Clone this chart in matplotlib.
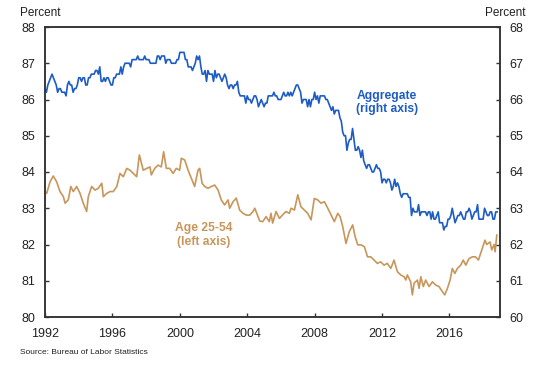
import numpy as np
import matplotlib
matplotlib.use("Agg")
import matplotlib.pyplot as plt

plt.rcParams['font.family'] = ['Liberation Sans', 'DejaVu Sans']

# Aggregate participation rate, monthly, Jan 1992 - Nov 2018 (right axis)
agg = [
    66.3, 66.2, 66.4, 66.5, 66.6, 66.7, 66.6, 66.5, 66.4, 66.2, 66.3, 66.3,  # 1992
    66.2, 66.2, 66.2, 66.1, 66.4, 66.5, 66.4, 66.4, 66.2, 66.3, 66.3, 66.4,  # 1993
    66.6, 66.6, 66.5, 66.6, 66.6, 66.4, 66.4, 66.6, 66.6, 66.7, 66.7, 66.7,  # 1994
    66.8, 66.8, 66.7, 66.9, 66.5, 66.5, 66.6, 66.5, 66.6, 66.6, 66.5, 66.4,  # 1995
    66.4, 66.6, 66.6, 66.7, 66.7, 66.7, 66.9, 66.7, 66.9, 67.0, 67.0, 67.0,  # 1996
    67.0, 66.9, 67.1, 67.1, 67.1, 67.1, 67.2, 67.1, 67.1, 67.1, 67.1, 67.2,  # 1997
    67.1, 67.1, 67.1, 67.0, 67.0, 67.0, 67.0, 67.0, 67.2, 67.2, 67.1, 67.2,  # 1998
    67.2, 67.2, 67.0, 67.1, 67.1, 67.1, 67.0, 67.0, 67.0, 67.0, 67.1, 67.1,  # 1999
    67.3, 67.3, 67.3, 67.3, 67.1, 67.1, 66.9, 66.9, 66.9, 66.8, 66.9, 67.0,  # 2000
    67.2, 67.1, 67.2, 66.9, 66.7, 66.7, 66.8, 66.5, 66.8, 66.7, 66.7, 66.7,  # 2001
    66.5, 66.8, 66.6, 66.7, 66.7, 66.6, 66.5, 66.6, 66.7, 66.6, 66.4, 66.3,  # 2002
    66.4, 66.4, 66.3, 66.4, 66.4, 66.5, 66.2, 66.1, 66.1, 66.1, 66.1, 65.9,  # 2003
    66.1, 66.0, 66.0, 65.9, 66.0, 66.1, 66.1, 66.0, 65.8, 65.9, 66.0, 65.9,  # 2004
    65.8, 65.9, 65.9, 66.1, 66.1, 66.1, 66.1, 66.2, 66.1, 66.1, 66.0, 66.0,  # 2005
    66.0, 66.1, 66.2, 66.1, 66.1, 66.2, 66.1, 66.2, 66.1, 66.2, 66.3, 66.4,  # 2006
    66.4, 66.3, 66.2, 65.9, 66.0, 66.0, 66.0, 65.8, 66.0, 65.8, 66.0, 66.0,  # 2007
    66.2, 66.0, 66.1, 65.9, 66.1, 66.1, 66.1, 66.1, 66.0, 66.0, 65.9, 65.8,  # 2008
    65.7, 65.8, 65.6, 65.7, 65.7, 65.7, 65.5, 65.4, 65.1, 65.0, 65.0, 64.6,  # 2009
    64.8, 64.9, 64.9, 65.2, 64.9, 64.6, 64.6, 64.7, 64.6, 64.4, 64.6, 64.3,  # 2010
    64.2, 64.1, 64.2, 64.2, 64.1, 64.0, 64.0, 64.1, 64.2, 64.1, 64.1, 64.0,  # 2011
    63.7, 63.8, 63.8, 63.7, 63.8, 63.8, 63.7, 63.5, 63.6, 63.8, 63.6, 63.7,  # 2012
    63.6, 63.4, 63.3, 63.4, 63.4, 63.4, 63.4, 63.3, 63.3, 62.8, 63.0, 62.9,  # 2013
    62.9, 62.9, 63.1, 62.8, 62.9, 62.9, 62.9, 62.9, 62.8, 62.9, 62.9, 62.7,  # 2014
    62.9, 62.7, 62.7, 62.8, 62.9, 62.6, 62.6, 62.6, 62.4, 62.5, 62.5, 62.7,  # 2015
    62.7, 62.8, 63.0, 62.8, 62.6, 62.7, 62.8, 62.8, 62.9, 62.8, 62.7, 62.7,  # 2016
    62.9, 62.9, 63.0, 62.9, 62.7, 62.8, 62.9, 62.9, 63.1, 62.7, 62.7, 62.7,  # 2017
    62.7, 63.0, 62.9, 62.8, 62.8, 62.9, 62.9, 62.7, 62.7, 62.9, 62.9,        # 2018
]
agg_years = 1992 + np.arange(len(agg)) / 12

# Age 25-54 participation rate (left axis)
prime_years = [
    1992.00, 1992.10, 1992.30, 1992.49, 1992.69, 1992.89, 1993.09, 1993.19, 1993.38, 1993.53,
    1993.68, 1993.88, 1994.08, 1994.27, 1994.47, 1994.57, 1994.77, 1994.97, 1995.16, 1995.37,
    1995.46, 1995.66, 1995.86, 1996.05, 1996.26, 1996.45, 1996.65, 1996.85, 1997.04, 1997.24,
    1997.44, 1997.60, 1997.83, 1998.04, 1998.23, 1998.31, 1998.51, 1998.71, 1998.90, 1999.04,
    1999.20, 1999.40, 1999.60, 1999.79, 1999.99, 2000.09, 2000.29, 2000.49, 2000.68, 2000.88,
    2001.08, 2001.18, 2001.32, 2001.48, 2001.67, 2001.87, 2002.07, 2002.27, 2002.46, 2002.66,
    2002.86, 2002.96, 2003.16, 2003.35, 2003.55, 2003.75, 2003.95, 2004.15, 2004.34, 2004.45,
    2004.64, 2004.74, 2004.92, 2005.12, 2005.31, 2005.41, 2005.51, 2005.71, 2005.91, 2006.11,
    2006.30, 2006.50, 2006.60, 2006.80, 2007.00, 2007.19, 2007.39, 2007.59, 2007.79, 2007.98,
    2008.18, 2008.38, 2008.58, 2008.78, 2008.97, 2009.17, 2009.37, 2009.51, 2009.67, 2009.86,
    2010.06, 2010.26, 2010.40, 2010.56, 2010.75, 2010.95, 2011.14, 2011.33, 2011.53, 2011.72,
    2011.92, 2012.12, 2012.31, 2012.52, 2012.71, 2012.91, 2013.11, 2013.31, 2013.41, 2013.50,
    2013.70, 2013.80, 2013.90, 2014.10, 2014.20, 2014.30, 2014.45, 2014.59, 2014.79, 2014.99,
    2015.19, 2015.38, 2015.58, 2015.72, 2015.88, 2016.04, 2016.17, 2016.32, 2016.47, 2016.67,
    2016.82, 2016.97, 2017.16, 2017.36, 2017.55, 2017.72, 2017.92, 2018.11, 2018.21, 2018.41,
    2018.51, 2018.65, 2018.71, 2018.81,
]
prime = [
    83.45, 83.41, 83.73, 83.89, 83.73, 83.46, 83.32, 83.14, 83.23, 83.60,
    83.46, 83.60, 83.41, 83.14, 82.91, 83.32, 83.60, 83.50, 83.55, 83.69,
    83.32, 83.41, 83.46, 83.46, 83.60, 83.96, 83.87, 84.10, 84.05, 83.96,
    83.87, 84.47, 84.05, 84.10, 84.14, 83.92, 84.10, 84.19, 84.14, 84.56,
    84.10, 84.10, 83.96, 84.10, 84.05, 84.38, 84.33, 84.05, 83.83, 83.60,
    84.05, 84.10, 83.69, 83.60, 83.55, 83.60, 83.64, 83.50, 83.23, 83.09,
    83.23, 83.00, 83.18, 83.28, 82.95, 82.86, 82.81, 82.81, 82.91, 83.00,
    82.77, 82.65, 82.63, 82.77, 82.63, 82.86, 82.59, 82.91, 82.72, 82.82,
    82.91, 82.86, 83.00, 82.95, 83.37, 83.04, 82.95, 82.86, 82.68, 83.27,
    83.23, 83.14, 83.18, 83.00, 82.82, 82.63, 82.86, 82.77, 82.49, 82.03,
    82.36, 82.54, 82.22, 81.99, 81.99, 81.94, 81.66, 81.66, 81.57, 81.48,
    81.52, 81.43, 81.48, 81.34, 81.57, 81.25, 81.16, 81.11, 81.02, 81.16,
    80.97, 80.61, 80.93, 81.02, 80.79, 81.11, 80.84, 81.02, 80.84, 80.97,
    80.88, 80.84, 80.70, 80.61, 80.79, 81.02, 81.34, 81.20, 81.34, 81.43,
    81.57, 81.43, 81.61, 81.66, 81.66, 81.57, 81.85, 82.12, 82.00, 82.07,
    81.85, 82.00, 81.80, 82.26,
]

blue = '#1c5cc4'
tan = '#c8965a'
frame = '#333333'

fig = plt.figure(figsize=(5.5, 3.65), dpi=100)
ax = fig.add_axes([45 / 550, 48 / 365, 455 / 550, 290 / 365])
ax2 = ax.twinx()

ax.plot(prime_years, prime, color=tan, lw=1.2)
ax2.plot(agg_years, agg, color=blue, lw=1.2)

ax.set_xlim(1992, 2019)
ax.set_ylim(80, 88)
ax2.set_ylim(60, 68)
ax.set_xticks(range(1992, 2017, 4))
ax.set_yticks(range(80, 89))
ax2.set_yticks(range(60, 69))

for a in (ax, ax2):
    for s in a.spines.values():
        s.set_color(frame)
        s.set_linewidth(1.1)
    a.tick_params(direction='in', length=2.8, width=1, color=frame,
                  labelsize=9, labelcolor='#222222', pad=7)
ax.tick_params(axis='x', pad=8)

ax.text(2001.4, 82.26, 'Age 25-54\n(left axis)', color=tan, fontsize=8.7,
        fontweight='bold', ha='center', va='center', linespacing=1.15)
ax.text(2012.3, 85.92, 'Aggregate\n(right axis)', color=blue, fontsize=8.7,
        fontweight='bold', ha='center', va='center', linespacing=1.15)

fig.text(20 / 550, 1 - 13 / 365, 'Percent', fontsize=8.5, color='#222222',
         ha='left', va='center')
fig.text(525 / 550, 1 - 13 / 365, 'Percent', fontsize=8.5, color='#222222',
         ha='right', va='center')
fig.text(20 / 550, 1 - 352 / 365, 'Source: Bureau of Labor Statistics',
         fontsize=6, color='#222222', ha='left', va='center')

fig.savefig('out.png', dpi=100)
